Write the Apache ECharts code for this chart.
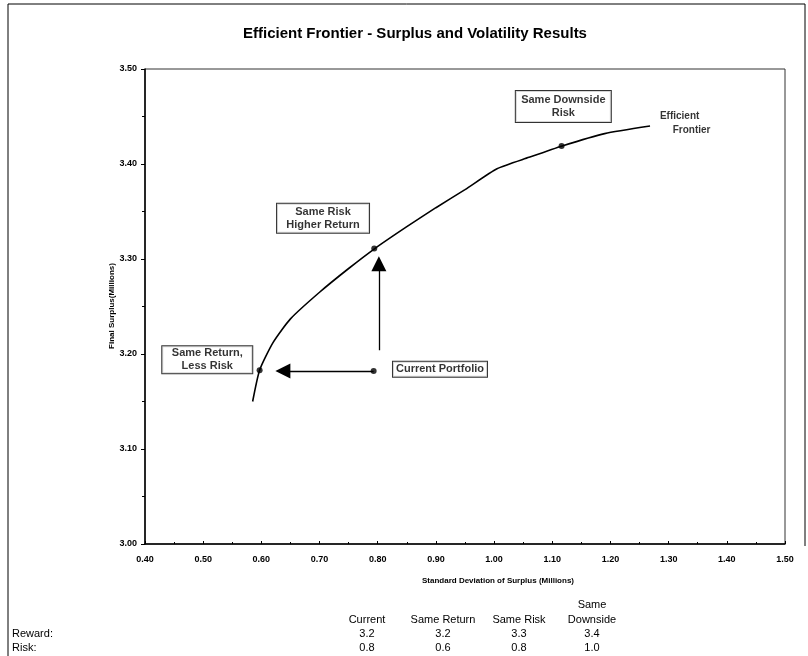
<!DOCTYPE html>
<html>
<head>
<meta charset="utf-8">
<script src="https://cdn.jsdelivr.net/npm/echarts@6/dist/echarts.min.js"></script>
<style>
html,body{margin:0;padding:0;background:#fff;}
#chart{width:808px;height:656px;}
</style>
</head>
<body>
<div id="chart"></div>
<script>
// ---- data ----
const frontierX = [0.585, 0.597, 0.620, 0.650, 0.700, 0.750, 0.795, 0.850, 0.900, 0.950, 1.005, 1.060, 1.117, 1.190, 1.268];
const frontierY = [3.150, 3.183, 3.212, 3.237, 3.265, 3.290, 3.311, 3.334, 3.354, 3.373, 3.395, 3.407, 3.419, 3.432, 3.440];
const pointNames = ['Current', 'Same Return', 'Same Risk', 'Same Downside'];
const pointX = [0.793, 0.597, 0.794, 1.116];
const pointY = [3.182, 3.183, 3.311, 3.419];
const arrowFromX = [0.793, 0.802];
const arrowFromY = [3.182, 3.204];
const arrowToX = [0.637, 0.802];
const arrowToY = [3.182, 3.295];
const annotText = ['Same Downside\nRisk', 'Same Risk\nHigher Return', 'Same Return,\nLess Risk', 'Current Portfolio'];
const annotX = [1.119, 0.706, 0.507, 0.907];
const annotY = [3.4605, 3.343, 3.194, 3.184];
const frontierLabel = ['Efficient', 'Frontier'];
const frontierLabelX = [1.285, 1.307];
const frontierLabelY = [3.450, 3.436];
const xMin = 0.4, xMax = 1.5, xStep = 0.1;
const yMin = 3.0, yMax = 3.5, yStep = 0.1;
const tableCols = ['Current', 'Same Return', 'Same Risk', 'Same\nDownside'];
const rewardRow = ['3.2', '3.2', '3.3', '3.4'];
const riskRow = ['0.8', '0.6', '0.8', '1.0'];
const rowLabels = ['Reward:', 'Risk:'];

// ---- chart ----
const FONT = '"Liberation Sans", Arial, sans-serif';
const chart = echarts.init(document.getElementById('chart'), null, {renderer: 'canvas'});

const annotSizes = [[97, 33], [94, 31], [92, 29], [96, 17]];

const option = {
  animation: false,
  backgroundColor: '#fff',
  title: {
    text: 'Efficient Frontier - Surplus and Volatility Results',
    left: 410, top: 21, textAlign: 'center',
    textStyle: {fontFamily: FONT, fontSize: 15, fontWeight: 'bold', color: '#000'}
  },
  grid: {left: 145, right: 23, top: 69, bottom: 112, show: true, borderColor: '#333', borderWidth: 1},
  xAxis: {
    type: 'value', min: xMin, max: xMax, interval: xStep,
    axisLine: {lineStyle: {color: '#000', width: 1.5}},
    axisTick: {inside: true, length: 3, lineStyle: {color: '#000'}},
    minorTick: {show: true, splitNumber: 2, length: 2, lineStyle: {color: '#000'}},
    splitLine: {show: false},
    axisLabel: {formatter: v => v.toFixed(2), fontFamily: FONT, fontSize: 9, fontWeight: 'bold', color: '#000', margin: 11}
  },
  yAxis: {
    type: 'value', min: yMin, max: yMax, interval: yStep,
    axisLine: {lineStyle: {color: '#000', width: 1.5}},
    axisTick: {length: 4, lineStyle: {color: '#000'}},
    minorTick: {show: true, splitNumber: 2, length: 3, lineStyle: {color: '#000'}},
    splitLine: {show: false},
    axisLabel: {formatter: v => v.toFixed(2), fontFamily: FONT, fontSize: 9, fontWeight: 'bold', color: '#000', margin: 8}
  },
  series: [
    {
      type: 'line', name: 'Efficient Frontier',
      data: frontierX.map((x, i) => [x, frontierY[i]]),
      symbol: 'none', smooth: 0.2,
      lineStyle: {color: '#000', width: 1.6}, z: 3
    },
    {
      type: 'lines', coordinateSystem: 'cartesian2d',
      data: arrowFromX.map((x, i) => ({coords: [[x, arrowFromY[i]], [arrowToX[i], arrowToY[i]]]})),
      symbol: ['none', 'triangle'], symbolSize: [1, 15],
      lineStyle: {color: '#000', width: 1.3, opacity: 1}, z: 3
    },
    {
      type: 'scatter', name: 'points',
      data: pointX.map((x, i) => ({name: pointNames[i], value: [x, pointY[i]]})),
      symbol: 'circle', symbolSize: 6, itemStyle: {color: '#000'}, z: 4
    },
    {
      type: 'scatter', name: 'annotations', symbolSize: 0, z: 5,
      data: annotX.map((x, i) => ({
        value: [x, annotY[i]],
        label: {
          show: true, position: 'inside', formatter: annotText[i],
          width: annotSizes[i][0] - 2, height: annotSizes[i][1] - 2,
          align: 'center', verticalAlign: 'middle',
          fontFamily: FONT, fontSize: 11, fontWeight: 'bold', color: '#000', lineHeight: 13,
          backgroundColor: '#fff', borderColor: '#000', borderWidth: 1, padding: 0
        }
      }))
    },
    {
      type: 'scatter', name: 'frontierLabel', symbolSize: 0, z: 5,
      data: frontierLabelX.map((x, i) => ({
        value: [x, frontierLabelY[i]],
        label: {
          show: true, position: 'inside', formatter: frontierLabel[i], align: 'left',
          fontFamily: FONT, fontSize: 10, fontWeight: 'bold', color: '#000'
        }
      }))
    }
  ]
};
chart.setOption(option);

// frame, axis titles, table
const g = [];
g.push({type: 'polyline', silent: true, shape: {points: [[8, 656], [8, 4], [805, 4], [805, 546]]}, style: {stroke: '#000', lineWidth: 1, fill: null}});
g.push({type: 'text', x: 112, y: 306, rotation: Math.PI / 2, style: {text: 'Final Surplus(Millions)', x: 0, y: 0, font: 'bold 8px ' + FONT, fill: '#000', align: 'center', verticalAlign: 'middle'}});
g.push({type: 'text', style: {text: 'Standard Deviation of Surplus (Millions)', x: 498, y: 581, font: 'bold 8px ' + FONT, fill: '#000', align: 'center', verticalAlign: 'middle'}});
const colCenter = [367, 443, 519, 592];
tableCols.forEach((t, i) => {
  g.push({type: 'text', style: {text: t, x: colCenter[i], y: 627, font: '11px ' + FONT, fill: '#000', align: 'center', verticalAlign: 'bottom', lineHeight: 15}});
  g.push({type: 'text', style: {text: rewardRow[i], x: colCenter[i], y: 634, font: '11px ' + FONT, fill: '#000', align: 'center', verticalAlign: 'middle'}});
  g.push({type: 'text', style: {text: riskRow[i], x: colCenter[i], y: 648, font: '11px ' + FONT, fill: '#000', align: 'center', verticalAlign: 'middle'}});
});
g.push({type: 'text', style: {text: rowLabels[0], x: 12, y: 634, font: '11px ' + FONT, fill: '#000', align: 'left', verticalAlign: 'middle'}});
g.push({type: 'text', style: {text: rowLabels[1], x: 12, y: 648, font: '11px ' + FONT, fill: '#000', align: 'left', verticalAlign: 'middle'}});
chart.setOption({graphic: g});
</script>
</body>
</html>
